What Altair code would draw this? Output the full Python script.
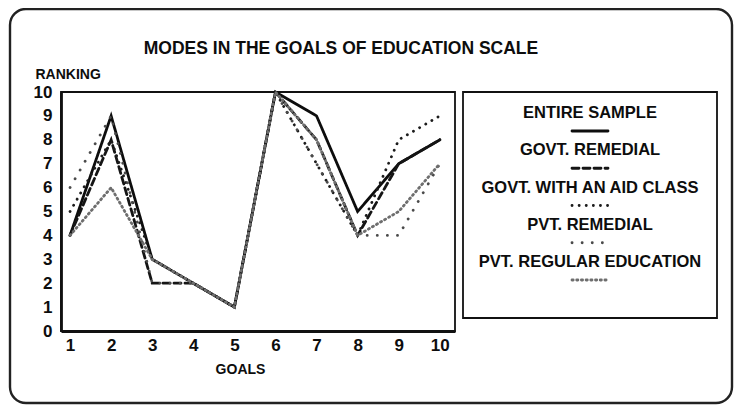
import altair as alt
import pandas as pd

goals = list(range(1, 11))
series_names = ["ENTIRE SAMPLE", "GOVT. REMEDIAL", "GOVT. WITH AN AID CLASS",
                "PVT. REMEDIAL", "PVT. REGULAR EDUCATION"]
entire_sample = [4, 9, 3, 2, 1, 10, 9, 5, 7, 8]
govt_remedial = [4, 8, 2, 2, 1, 10, 8, 4, 7, 8]
govt_aid_class = [5, 8, 3, 2, 1, 10, 7, 4, 8, 9]
pvt_remedial = [6, 9, 2, 2, 1, 10, 7, 4, 4, 7]
pvt_regular = [4, 6, 3, 2, 1, 10, 8, 4, 5, 7]
y_ticks = list(range(0, 11))
title_text = "MODES IN THE GOALS OF EDUCATION SCALE"

values = [entire_sample, govt_remedial, govt_aid_class, pvt_remedial, pvt_regular]
rows = []
for name, vals in zip(series_names, values):
    for g, v in zip(goals, vals):
        rows.append({"series": name, "goal": g, "rank": v})
df = pd.DataFrame(rows)
legend_df = pd.DataFrame({"series": series_names, "order": list(range(len(series_names)))})

FONT = "Liberation Sans"
W, H = 394, 239

dash_scale = alt.Scale(domain=series_names,
                       range=[[1, 0], [7, 4], [0.1, 7], [0.1, 10], [1.2, 3.5]])
width_scale = alt.Scale(domain=series_names, range=[2.8, 2.8, 3.8, 2.6, 1.5])
color_scale = alt.Scale(domain=series_names,
                        range=["#0d0d0d", "#151515", "#1c1c1c", "#4a4a4a", "#6e6e6e"])

lines = alt.Chart(df).mark_line(strokeCap="round").encode(
    x=alt.X("goal:Q", scale=alt.Scale(domain=[0.78, 10.37], nice=False, zero=False),
            axis=alt.Axis(values=goals, format="d", title="GOALS", titleX=179, titleY=42,
                          titleBaseline="alphabetic", titleAlign="center")),
    y=alt.Y("rank:Q", scale=alt.Scale(domain=[0, 10], nice=False),
            axis=alt.Axis(values=y_ticks, title="RANKING", titleAngle=0, titleX=-26,
                          titleY=-14, titleAlign="left", titleBaseline="alphabetic")),
    detail="series:N",
    strokeDash=alt.StrokeDash("series:N", scale=dash_scale, legend=None),
    strokeWidth=alt.StrokeWidth("series:N", scale=width_scale, legend=None),
    color=alt.Color("series:N", scale=color_scale, legend=None),
)

legend_y = alt.Y("order:O", scale=alt.Scale(type="point", range=[21, 170], padding=0), axis=None)

legend_text = alt.Chart(legend_df).mark_text(
    font=FONT, fontSize=16.5, fontWeight="bold", align="center", baseline="middle",
    color="#0d0d0d"
).encode(x=alt.value(529), y=legend_y, text="series:N")

legend_samples = alt.Chart(legend_df).mark_rule(yOffset=18, strokeCap="round").encode(
    x=alt.value(511), x2=alt.value(547), y=legend_y,
    strokeDash=alt.StrokeDash("series:N", scale=dash_scale, legend=None),
    strokeWidth=alt.StrokeWidth("series:N", scale=width_scale, legend=None),
    color=alt.Color("series:N", scale=color_scale, legend=None),
)

deco = pd.DataFrame({"k": [0]})
legend_box = alt.Chart(deco).mark_rect(fill=None, stroke="#111111", strokeWidth=1.8).encode(
    x=alt.value(402), x2=alt.value(656), y=alt.value(0), y2=alt.value(226))

outer_frame = alt.Chart(deco).mark_rect(fill=None, stroke="#222222", strokeWidth=2.4,
                                        cornerRadius=16).encode(
    x=alt.value(-51), x2=alt.value(671), y=alt.value(-83), y2=alt.value(311))

title = alt.Chart(pd.DataFrame({"t": [title_text]})).mark_text(
    font=FONT, fontSize=17.5, fontWeight="bold", align="center", baseline="alphabetic",
    color="#0d0d0d"
).encode(x=alt.value(280), y=alt.value(-38), text="t:N")

chart = alt.layer(outer_frame, lines, legend_box, legend_samples, legend_text, title).resolve_scale(
    x="independent", y="independent"
).properties(
    width=W, height=H,
    autosize=alt.AutoSizeParams(type="none"),
    padding={"left": 53, "top": 84, "right": 279, "bottom": 74},
).configure_view(
    stroke="#111111", strokeWidth=1.8
).configure_axis(
    labelFont=FONT, labelFontSize=17, labelFontWeight="bold", labelColor="#0d0d0d",
    titleFont=FONT, titleFontSize=14, titleFontWeight="bold", titleColor="#0d0d0d",
    domainColor="#111111", domainWidth=2.8, ticks=False, grid=False
).configure_axisY(labelPadding=9).configure_axisX(labelPadding=6)

chart.save("out.html", embed_options={"renderer": "svg", "actions": False})
